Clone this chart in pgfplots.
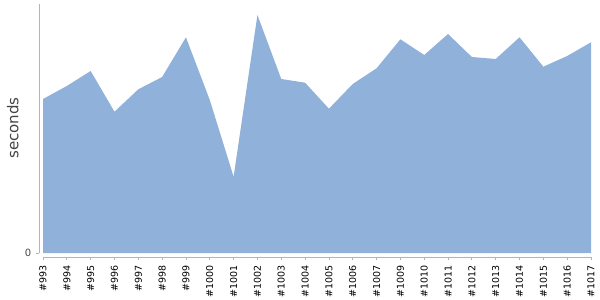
\documentclass[border=0pt]{standalone}
\usepackage{pgfplots}
\pgfplotsset{compat=1.18}
\usepackage{fontspec}
\setmainfont{DejaVu Sans}
\definecolor{areafill}{HTML}{8FB1DA}
\definecolor{axgray}{HTML}{B4B4B4}
\definecolor{labgray}{HTML}{444444}
\begin{document}
\begin{tikzpicture}
\useasboundingbox (-39.5pt,-43pt) rectangle (560.5pt,257pt);
\begin{axis}[
  at={(0,0)}, anchor=south west,
  scale only axis,
  width=551.5pt, height=253pt,
  xmin=-0.147, xmax=23, ymin=-4, ymax=249,
  axis lines*=left,
  axis line style={draw=none},
  clip=false,
  tick align=outside,
  major tick length=3pt,
  tick style={axgray, line width=0.8pt},
  /pgf/number format/assume math mode=true,
  xtick={0,...,23},
  xticklabels={\#993,\#994,\#995,\#996,\#997,\#998,\#999,\#1000,\#1001,\#1002,\#1003,\#1004,\#1005,\#1006,\#1007,\#1009,\#1010,\#1011,\#1012,\#1013,\#1014,\#1015,\#1016,\#1017},
  xticklabel style={rotate=90, anchor=east, font=\fontsize{9.5}{10}\selectfont, text=black, inner sep=0pt},
  xticklabel shift=5.5pt,
  ytick={0},
  yticklabel style={font=\fontsize{10}{11}\selectfont, text=labgray, inner sep=0pt},
  yticklabel shift=5pt,
  ylabel={seconds},
  ylabel style={at={(axis description cs:-0.0486,0.51)}, anchor=center, rotate=0, font=\fontsize{15}{16}\selectfont, text=labgray},
]
\addplot[fill=areafill, draw=none] coordinates {
(0,154) (1,167) (2,182) (3,141.3) (4,163.7) (5,176) (6,215.7) (7,153) (8,76.3) (9,238) (10,174) (11,170.3) (12,144.3) (13,169) (14,184.7) (15,213.7) (16,198) (17,219) (18,196) (19,194) (20,215.7) (21,186.3) (22,197) (23,210.7)
} \closedcycle;
\draw[axgray, line width=0.8pt] (axis cs:0,-4) -- (axis cs:23,-4);
\draw[axgray, line width=0.8pt] (axis cs:-0.147,0) -- (axis cs:-0.147,249);
\end{axis}
\end{tikzpicture}
\end{document}
